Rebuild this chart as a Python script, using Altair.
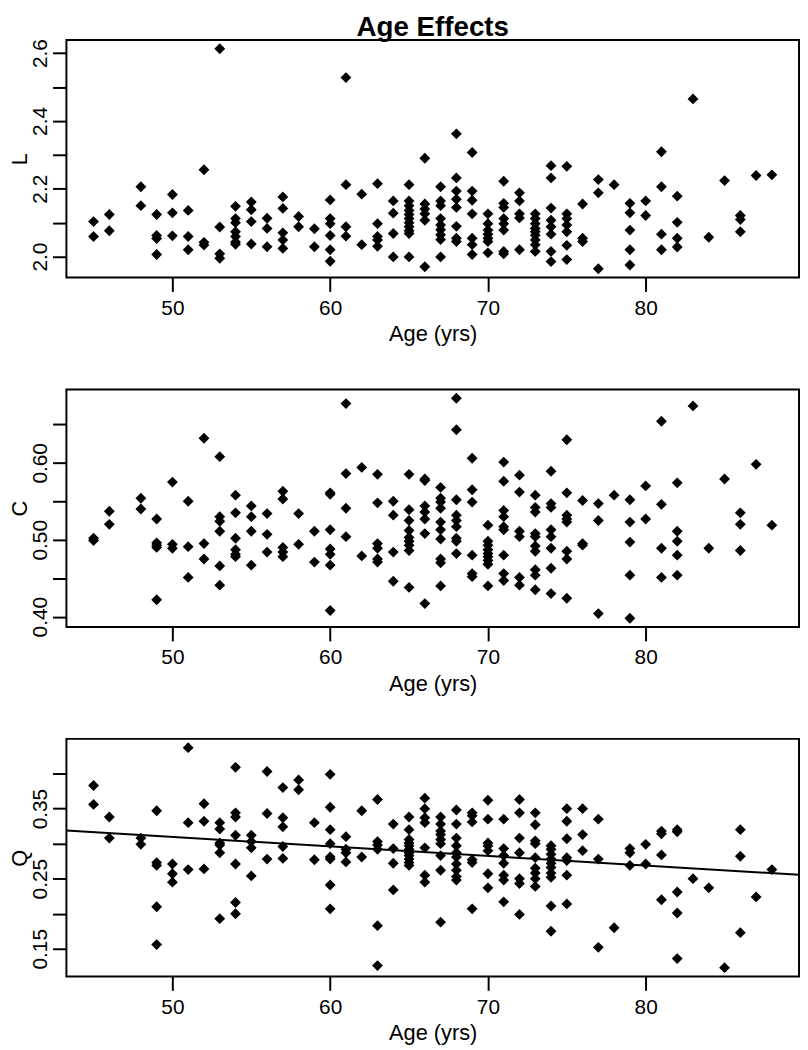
import altair as alt
import pandas as pd

# ---------------- data ----------------
AGES = [45, 46, 48, 49, 50, 51, 52, 53, 54, 55, 56, 57, 58, 59, 60, 61, 62, 63, 64, 65,
        66, 67, 68, 69, 70, 71, 72, 73, 74, 75, 76, 77, 78, 79, 80, 81, 82, 83, 84, 85,
        86, 87, 88]

L_VALUES = [
    [2.103, 2.059], [2.124, 2.076], [2.206, 2.150], [2.124, 2.062, 2.053, 2.006],
    [2.183, 2.129, 2.061], [2.136, 2.059, 2.020], [2.256, 2.042, 2.034],
    [2.613, 2.087, 2.008, 1.995], [2.148, 2.112, 2.100, 2.073, 2.059, 2.043, 2.036],
    [2.161, 2.138, 2.103, 2.037], [2.113, 2.083, 2.029], [2.176, 2.142, 2.070, 2.049, 2.024],
    [2.118, 2.088], [2.082, 2.029], [2.167, 2.112, 2.097, 2.062, 2.020, 1.986],
    [2.528, 2.212, 2.088, 2.060], [2.184, 2.035], [2.215, 2.097, 2.059, 2.049, 2.030],
    [2.164, 2.128, 2.068, 1.999],
    [2.212, 2.164, 2.150, 2.136, 2.124, 2.112, 2.100, 2.088, 2.076, 2.068, 1.999],
    [2.290, 2.155, 2.140, 2.126, 2.107, 1.970],
    [2.206, 2.164, 2.150, 2.112, 2.093, 2.079, 2.064, 2.050, 1.999],
    [2.362, 2.232, 2.193, 2.169, 2.145, 2.089, 2.054, 2.044],
    [2.307, 2.193, 2.166, 2.126, 2.054, 2.035, 2.006],
    [2.126, 2.097, 2.078, 2.066, 2.054, 2.044, 2.011],
    [2.222, 2.157, 2.145, 2.112, 2.097, 2.078, 2.015, 2.008],
    [2.188, 2.164, 2.126, 2.114, 2.020],
    [2.126, 2.112, 2.097, 2.083, 2.073, 2.063, 2.049, 2.035, 2.015],
    [2.268, 2.232, 2.143, 2.107, 2.088, 2.066, 2.015, 1.985],
    [2.266, 2.126, 2.112, 2.093, 2.073, 2.033, 1.991],
    [2.155, 2.054, 2.044], [2.227, 2.188, 1.964], [2.212],
    [2.157, 2.129, 2.078, 2.020, 1.975], [2.164, 2.121], [2.309, 2.206, 2.066, 2.020],
    [2.178, 2.101, 2.054, 2.028], [2.465], [2.057], [2.224], [2.121, 2.109, 2.073],
    [2.239], [2.241],
]

C_VALUES = [
    [0.502, 0.499], [0.537, 0.520], [0.554, 0.540], [0.527, 0.496, 0.493, 0.490, 0.422],
    [0.575, 0.494, 0.489], [0.550, 0.491, 0.451], [0.632, 0.495, 0.475],
    [0.608, 0.530, 0.524, 0.511, 0.466, 0.441], [0.558, 0.535, 0.502, 0.487, 0.481, 0.478],
    [0.544, 0.530, 0.511, 0.467], [0.534, 0.507, 0.484], [0.563, 0.553, 0.490, 0.484, 0.478],
    [0.534, 0.494], [0.511, 0.471], [0.561, 0.559, 0.513, 0.488, 0.481, 0.467, 0.408],
    [0.677, 0.586, 0.541, 0.504], [0.594, 0.479], [0.585, 0.548, 0.495, 0.489, 0.475, 0.471],
    [0.550, 0.532, 0.484, 0.446],
    [0.585, 0.539, 0.525, 0.512, 0.503, 0.498, 0.493, 0.486, 0.438],
    [0.579, 0.577, 0.544, 0.536, 0.527, 0.508, 0.417],
    [0.568, 0.554, 0.549, 0.541, 0.523, 0.513, 0.501, 0.475, 0.470, 0.440],
    [0.684, 0.643, 0.552, 0.532, 0.525, 0.517, 0.502, 0.498, 0.482],
    [0.606, 0.565, 0.549, 0.480, 0.456, 0.452],
    [0.519, 0.498, 0.493, 0.487, 0.482, 0.478, 0.473, 0.468, 0.440],
    [0.601, 0.576, 0.538, 0.530, 0.517, 0.513, 0.480, 0.456, 0.447],
    [0.584, 0.562, 0.511, 0.504, 0.451, 0.441],
    [0.558, 0.542, 0.536, 0.508, 0.504, 0.492, 0.485, 0.461, 0.454, 0.435],
    [0.589, 0.547, 0.542, 0.513, 0.504, 0.489, 0.463, 0.430],
    [0.630, 0.561, 0.532, 0.527, 0.523, 0.485, 0.475, 0.424],
    [0.551, 0.495, 0.493], [0.547, 0.525, 0.404], [0.558],
    [0.552, 0.523, 0.497, 0.454, 0.398], [0.570, 0.527], [0.654, 0.546, 0.489, 0.451],
    [0.574, 0.511, 0.498, 0.480, 0.454], [0.674], [0.489], [0.579], [0.535, 0.520, 0.486],
    [0.598], [0.519],
]

Q_VALUES = [
    [0.383, 0.356], [0.338, 0.308], [0.308, 0.299], [0.347, 0.273, 0.269, 0.210, 0.156],
    [0.271, 0.257, 0.245], [0.437, 0.330, 0.263], [0.357, 0.332, 0.264],
    [0.330, 0.321, 0.301, 0.298, 0.287, 0.193],
    [0.409, 0.344, 0.338, 0.312, 0.271, 0.216, 0.200],
    [0.312, 0.303, 0.294, 0.254], [0.403, 0.343, 0.278],
    [0.380, 0.337, 0.324, 0.296, 0.279], [0.391, 0.377], [0.330, 0.277],
    [0.399, 0.352, 0.320, 0.300, 0.281, 0.278, 0.241, 0.207],
    [0.310, 0.292, 0.287, 0.274], [0.347, 0.281],
    [0.363, 0.303, 0.298, 0.292, 0.183, 0.126], [0.328, 0.293, 0.272, 0.234],
    [0.338, 0.320, 0.306, 0.301, 0.297, 0.292, 0.287, 0.283, 0.278, 0.273, 0.269],
    [0.365, 0.350, 0.337, 0.330, 0.294, 0.255, 0.245],
    [0.338, 0.328, 0.318, 0.313, 0.306, 0.300, 0.283, 0.262, 0.188],
    [0.348, 0.328, 0.308, 0.297, 0.287, 0.281, 0.271, 0.262, 0.253, 0.248],
    [0.344, 0.340, 0.331, 0.277, 0.273, 0.207],
    [0.362, 0.335, 0.301, 0.297, 0.290, 0.257, 0.237],
    [0.335, 0.293, 0.283, 0.272, 0.255, 0.248, 0.217],
    [0.363, 0.344, 0.308, 0.287, 0.250, 0.243, 0.199],
    [0.344, 0.327, 0.304, 0.300, 0.280, 0.265, 0.258, 0.250, 0.239],
    [0.297, 0.292, 0.285, 0.278, 0.272, 0.266, 0.258, 0.252, 0.211, 0.175],
    [0.350, 0.332, 0.307, 0.280, 0.276, 0.255, 0.214],
    [0.350, 0.313, 0.290], [0.335, 0.278, 0.152], [0.180], [0.293, 0.287, 0.269],
    [0.299, 0.271], [0.318, 0.314, 0.284, 0.220], [0.320, 0.317, 0.231, 0.201, 0.136],
    [0.250], [0.237], [0.123], [0.320, 0.282, 0.173], [0.224], [0.263],
]

# fitted regression line shown in the Q panel (Q = intercept + slope * age)
Q_FIT_INTERCEPT = 0.378
Q_FIT_SLOPE = -0.001365

X_TICKS = [50, 60, 70, 80]
L_TICKS = [2.0, 2.1, 2.2, 2.3, 2.4, 2.5, 2.6]
L_TICK_LABELS = ["2.0", "2.2", "2.4", "2.6"]
C_TICKS = [0.40, 0.45, 0.50, 0.55, 0.60, 0.65]
C_TICK_LABELS = ["0.40", "0.50", "0.60"]
Q_TICKS = [0.15, 0.20, 0.25, 0.30, 0.35, 0.40]
Q_TICK_LABELS = ["0.15", "0.25", "0.35"]

TITLE = "Age Effects"
X_TITLE = "Age (yrs)"

# ---------------- build ----------------
FONT = "Liberation Sans"
W, H = 740, 240


def long_frame(values):
    rows = []
    for a, vals in zip(AGES, values):
        for v in vals:
            rows.append({"age": a, "v": v})
    return pd.DataFrame(rows)


def expand(lo, hi, f=0.04):
    r = hi - lo
    return [lo - f * r, hi + f * r]


X_DOMAIN = expand(min(AGES), max(AGES))


def panel(values, name, ticks, tick_labels, fmt, fit=None, title=None):
    df = long_frame(values)
    ydom = expand(df["v"].min(), df["v"].max())
    label_list = "[" + ",".join("'" + s + "'" for s in tick_labels) + "]"
    x = alt.X(
        "age:Q",
        scale=alt.Scale(domain=X_DOMAIN, nice=False, zero=False),
        axis=alt.Axis(values=X_TICKS, title=X_TITLE, titleX=W / 2, titleY=64,
                      titleAlign="center", titleBaseline="alphabetic",
                      labelBaseline="top", labelAlign="center"),
    )
    y = alt.Y(
        "v:Q",
        scale=alt.Scale(domain=ydom, nice=False, zero=False),
        axis=alt.Axis(values=ticks, format=fmt, title=name,
                      labelExpr=f"indexof({label_list}, datum.label) >= 0 ? datum.label : ''",
                      labelAngle=270, labelAlign="center", labelBaseline="alphabetic",
                      titleAngle=270, titleX=-40, titleY=H / 2, titleAlign="center",
                      titleBaseline="alphabetic"),
    )
    pts = alt.Chart(df).mark_point(
        shape="diamond", filled=True, color="black", opacity=1, size=120, strokeWidth=0
    ).encode(x=x, y=y)
    layers = [pts]
    if fit is not None:
        icpt, slope = fit
        line_df = pd.DataFrame({"age": X_DOMAIN})
        line = alt.Chart(line_df).transform_calculate(
            v=f"{icpt} + ({slope}) * datum.age"
        ).mark_line(color="black", strokeWidth=2, clip=True).encode(x=x, y=y)
        layers.append(line)
    if title is not None:
        t = alt.Chart(pd.DataFrame({"t": [title]})).mark_text(
            font=FONT, fontSize=28, fontWeight="bold", color="black",
            align="center", baseline="alphabetic"
        ).encode(text="t:N", x=alt.value(W / 2), y=alt.value(-4))
        layers.append(t)
    ch = alt.layer(*layers) if len(layers) > 1 else pts
    return ch.properties(width=W, height=H)


p1 = panel(L_VALUES, "L", L_TICKS, L_TICK_LABELS, ".1f", title=TITLE)
p2 = panel(C_VALUES, "C", C_TICKS, C_TICK_LABELS, ".2f")
p3 = panel(Q_VALUES, "Q", Q_TICKS, Q_TICK_LABELS, ".2f", fit=(Q_FIT_INTERCEPT, Q_FIT_SLOPE))

chart = alt.VConcatChart(vconcat=[p1, p2, p3], spacing=113, bounds="flush").properties(
    padding=0, background="white"
).configure_view(
    stroke="black", strokeWidth=2
).configure_axis(
    domain=False, grid=False, tickSize=14, tickWidth=2, tickColor="black",
    labelFont=FONT, labelFontSize=21, labelColor="black", labelPadding=6,
    titleFont=FONT, titleFontSize=22, titleFontWeight="normal", titleColor="black",
    labelOverlap=False, labelFlush=False,
)

chart.save("out.html", embed_options={"renderer": "svg", "actions": False})
